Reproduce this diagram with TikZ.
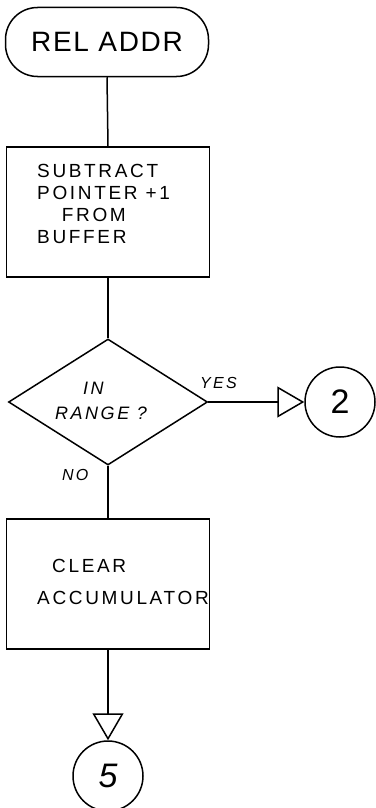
\documentclass[tikz,border=0pt]{standalone}
\usepackage{fontspec}
\setmainfont{Liberation Sans}[LetterSpace=6]
\newfontfamily\widefont{Liberation Sans}[LetterSpace=14]
\usetikzlibrary{shapes.geometric,arrows.meta}
\tikzset{
  every node/.style={font=\fontsize{19}{22}\selectfont},
  ln/.style={line width=1.5pt},
  term/.style={ln,draw,rectangle,rounded corners=32pt,minimum width=203pt,minimum height=69pt,inner sep=0pt,font=\fontsize{28}{30}\selectfont},
  proc/.style={ln,draw,rectangle,minimum width=203pt,minimum height=130pt,inner sep=0pt},
  txt/.style={inner sep=0pt,align=left,font=\widefont\fontsize{19}{22}\selectfont},
  dec/.style={ln,draw,diamond,minimum width=199pt,minimum height=126pt,inner sep=0pt},
  dtxt/.style={inner sep=0pt,font=\widefont\fontsize{18}{18}\selectfont\itshape},
  conn/.style={ln,draw,circle,minimum size=70pt,inner sep=0pt,font=\fontsize{34}{34}\selectfont},
  lbl/.style={inner sep=0pt,font=\widefont\fontsize{16}{16}\selectfont\itshape},
  flow/.style={ln,-{Triangle[open,length=27pt,width=31pt,line width=1.5pt]}}
}
\begin{document}
\begin{tikzpicture}[x=1pt,y=-1pt]
\useasboundingbox (0,0) rectangle (375,808);
\node[term] (rel) at (107,42) {REL ADDR};
\node[proc] (sub) at (108,212) {};
\node[txt,anchor=north west] (subt) at (37,164) {SUBTRACT\\POINTER +1\\\hspace{1.3em}FROM\\BUFFER};
\node[dec] (rng) at (108,402) {};
\node[dtxt,anchor=base west] (rngin) at (83,394) {IN};
\node[dtxt,anchor=base west] (rngr) at (55,419) {RANGE ?};
\node[proc] (clr) at (108,584) {};
\node[txt,anchor=base west] (clrc) at (52,572) {CLEAR};
\node[txt,anchor=base west] (clra) at (37,604) {ACCUMULATOR};
\node[conn] (c2) at (340,402) {2};
\node[conn,font=\fontsize{34}{34}\selectfont\itshape] (c5) at (108,776) {5};
\draw[ln] (rel.south) -- (sub.north);
\draw[ln] (sub.south) -- (rng.north);
\draw[ln] (rng.south) -- (clr.north);
\draw[flow] (rng.east) -- (c2.west);
\draw[flow] (clr.south) -- (c5.north);
\node[lbl,anchor=base west] (yes) at (200,388) {YES};
\node[lbl,anchor=base west] (no) at (62,480) {NO};
\end{tikzpicture}
\end{document}
